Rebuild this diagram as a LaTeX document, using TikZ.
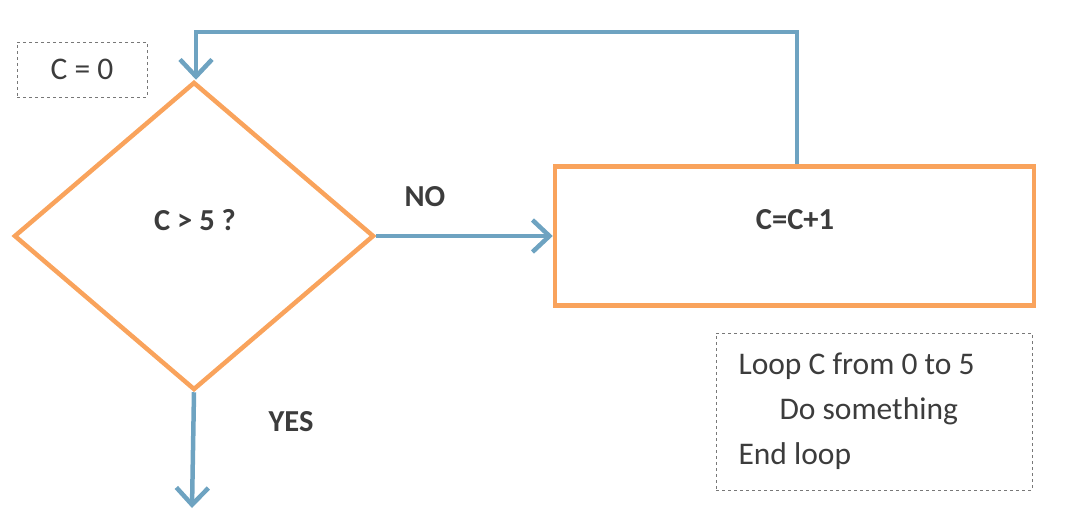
\documentclass[tikz,border=0pt]{standalone}
\usepackage{fontspec}
\setmainfont{Carlito}
\usetikzlibrary{shapes.geometric,arrows.meta}
\definecolor{orng}{RGB}{249,163,92}
\definecolor{blu}{RGB}{110,163,193}
\definecolor{txt}{RGB}{60,60,60}
\definecolor{dgray}{RGB}{120,120,120}
\tikzset{
  box/.style={draw=orng,line width=4.5pt,inner sep=0pt},
  note/.style={draw=dgray,line width=0.9pt,dash pattern=on 3pt off 3pt,inner sep=0pt},
  flow/.style={draw=blu,line width=4.5pt,-{Straight Barb[length=17pt,width=32pt,line width=4.5pt]}},
  lbl/.style={text=txt,font=\fontsize{31.5}{38}\selectfont},
  blbl/.style={text=txt,font=\fontsize{30.5}{36}\selectfont\bfseries},
}
\begin{document}
\begin{tikzpicture}[x=1pt,y=-1pt]
\useasboundingbox (0,0) rectangle (1066,522);
% start note
\node[note,minimum width=130pt,minimum height=55pt] (init) at (82,69.5) {};
\node[lbl] (initt) at (init.center) {C = 0};
% decision
\node[box,shape=diamond,minimum width=360pt,minimum height=308pt] (dec) at (194,236) {};
\node[blbl] (dect) at (195,220) {C > 5 ?};
% process
\node[box,minimum width=479pt,minimum height=139pt] (proc) at (794.5,236) {};
\node[blbl] (proct) at (795,220) {C=C+1};
% loop note
\node[note,minimum width=316pt,minimum height=157pt] (loop) at (874,411.5) {};
\node[lbl,anchor=west] (l1) at (735,366) {Loop C from 0 to 5};
\node[lbl,anchor=west] (l2) at (776,411) {Do something};
\node[lbl,anchor=west] (l3) at (735,456) {End loop};
% labels
\node[blbl] (no) at (425,197) {NO};
\node[blbl] (yes) at (291,422) {YES};
% connectors
\coordinate (yesend) at (192,508);
\draw[flow] (dec.east) -- (proc.west);
\draw[flow] (dec.south) -- (yesend);
\draw[flow] (proc.north -| 797,0) -- (797,32) -- (196,32) -- (dec.north -| 196,0);
\end{tikzpicture}
\end{document}
